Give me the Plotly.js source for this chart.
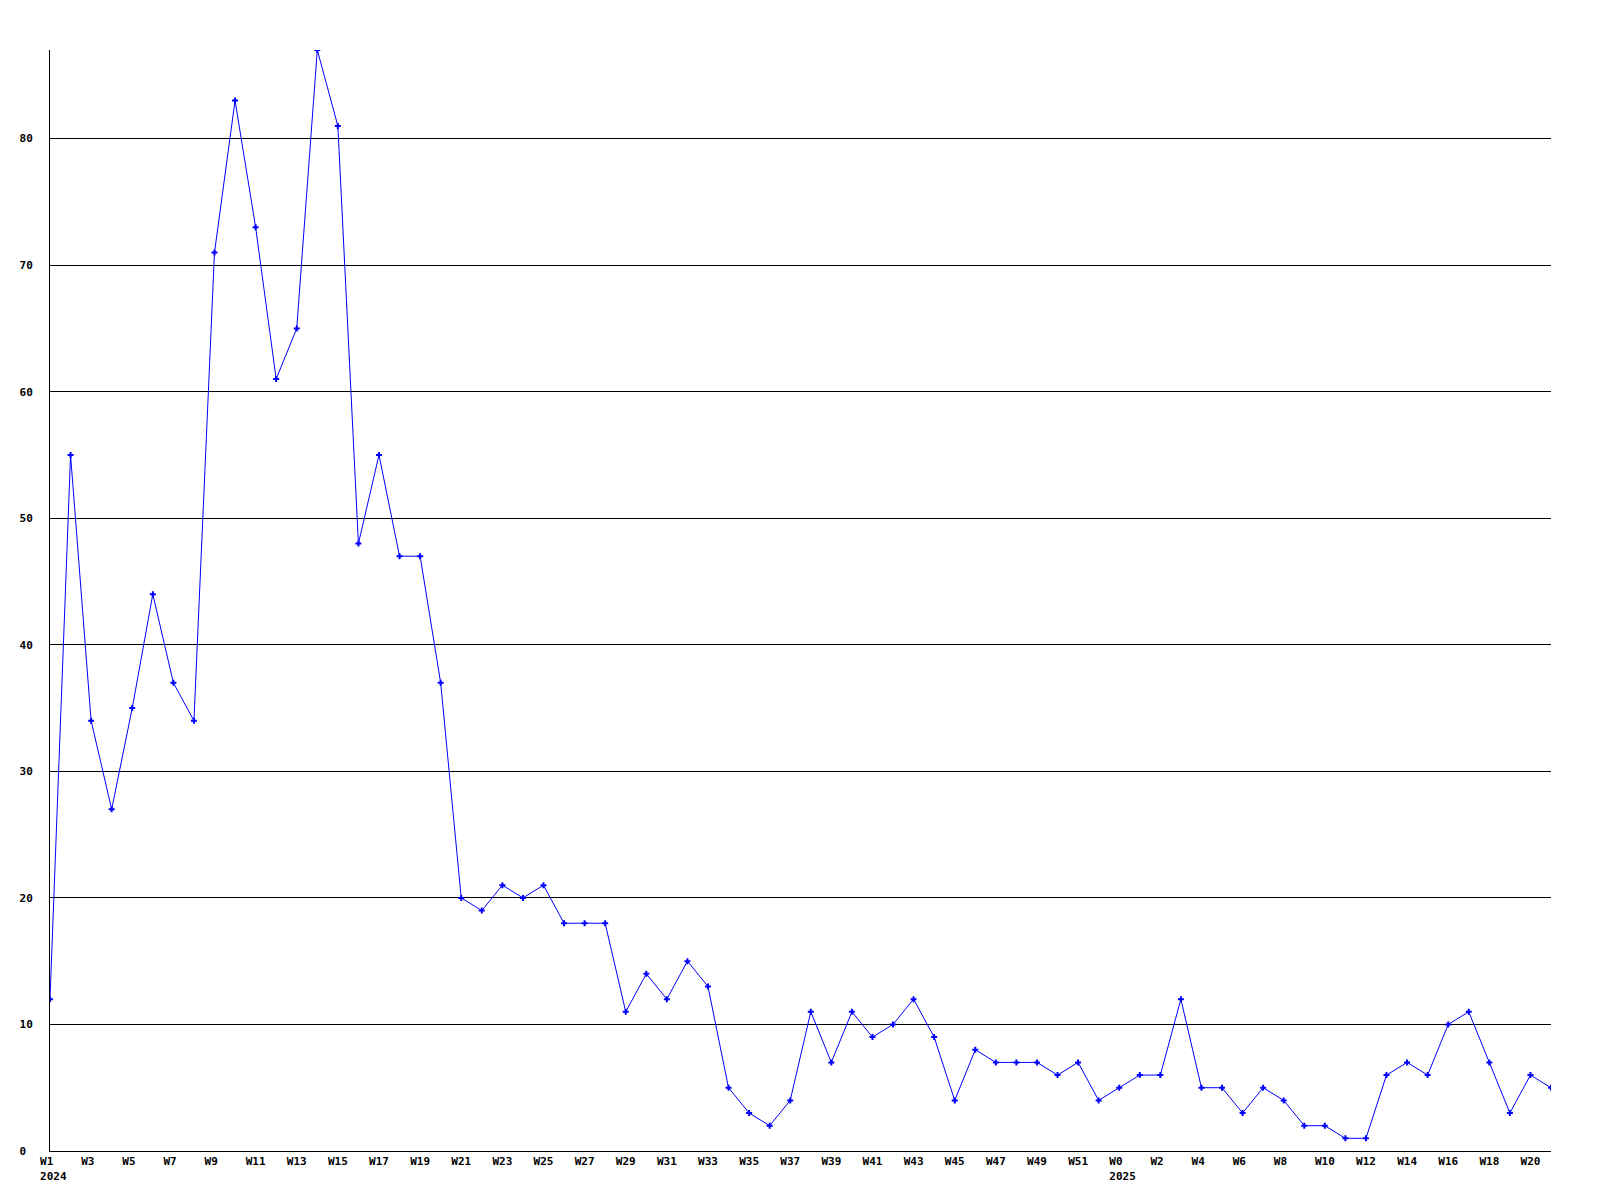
<!DOCTYPE html>
<html>
<head>
<meta charset="utf-8">
<script src="https://cdn.plot.ly/plotly-3.0.1.min.js"></script>
<style>
  html, body { margin: 0; padding: 0; background: #ffffff; }
  #chart { width: 1600px; height: 1200px; }
</style>
</head>
<body>
<div id="chart"></div>
<script>
// Week labels (2024 W1..W52, then 2025 W0..W21)
const weeks2024 = ["W1","W2","W3","W4","W5","W6","W7","W8","W9","W10","W11","W12","W13","W14","W15","W16","W17","W18","W19","W20","W21","W22","W23","W24","W25","W26","W27","W28","W29","W30","W31","W32","W33","W34","W35","W36","W37","W38","W39","W40","W41","W42","W43","W44","W45","W46","W47","W48","W49","W50","W51","W52"];
const weeks2025 = ["W0","W1","W2","W3","W4","W5","W6","W7","W8","W9","W10","W11","W12","W13","W14","W15","W16","W17","W18","W19","W20","W21"];
const years = ["2024", "2025"];

// Weekly counts
const values2024 = [12,55,34,27,35,44,37,34,71,83,73,61,65,87,81,48,55,47,47,37,20,19,21,20,21,18,18,18,11,14,12,15,13,5,3,2,4,11,7,11,9,10,12,9,4,8,7,7,7,6,7,4];
const values2025 = [5,6,6,12,5,5,3,5,4,2,2,1,1,6,7,6,10,11,7,3,6,5];

// Y axis ticks
const yTicks = [0,10,20,30,40,50,60,70,80];

const labels = weeks2024.concat(weeks2025);
const values = values2024.concat(values2025);
const xs = values.map((v, i) => i);

const NB = "\u00a0";
function pad3(s) { while (s.length < 3) s += NB; return s; }

const tickvals = [];
const ticktext = [];
for (let i = 0; i < labels.length; i += 2) {
  tickvals.push(i);
  let t = pad3(labels[i]);
  if (i === 0) t += "<br>" + NB + years[0];
  if (i === weeks2024.length) t += "<br>" + NB + years[1];
  ticktext.push(t);
}

const yText = yTicks.map(v => { let s = String(v); while (s.length < 2) s += NB; return s; });

const font = { family: "DejaVu Sans Mono, Liberation Mono, monospace", size: 11, color: "#000000", weight: "bold" };

const trace = {
  type: "scatter",
  mode: "lines+markers",
  x: xs,
  y: values,
  line: { color: "#0000ff", width: 1 },
  marker: { color: "#0000ff", symbol: "cross", size: 5, line: { width: 0 } },
  hoverinfo: "skip"
};

const layout = {
  width: 1600,
  height: 1200,
  paper_bgcolor: "#ffffff",
  plot_bgcolor: "#ffffff",
  showlegend: false,
  margin: { l: 50, r: 49, t: 50, b: 49, pad: 0 },
  font: font,
  xaxis: {
    range: [0, labels.length - 1],
    tickmode: "array",
    tickvals: tickvals,
    ticktext: ticktext,
    ticks: "",
    showgrid: false,
    zeroline: false,
    showline: true,
    linecolor: "#000000",
    linewidth: 1,
    tickfont: font,
    tickangle: 0,
    fixedrange: true
  },
  yaxis: {
    range: [0, Math.max(...values)],
    tickmode: "array",
    tickvals: yTicks,
    ticktext: yText,
    ticks: "",
    showgrid: true,
    gridcolor: "#000000",
    gridwidth: 1,
    zeroline: false,
    showline: true,
    linecolor: "#000000",
    linewidth: 1,
    tickfont: font,
    ticklabelstandoff: 14,
    fixedrange: true
  }
};

Plotly.newPlot("chart", [trace], layout, { displayModeBar: false, staticPlot: true });
</script>
</body>
</html>
